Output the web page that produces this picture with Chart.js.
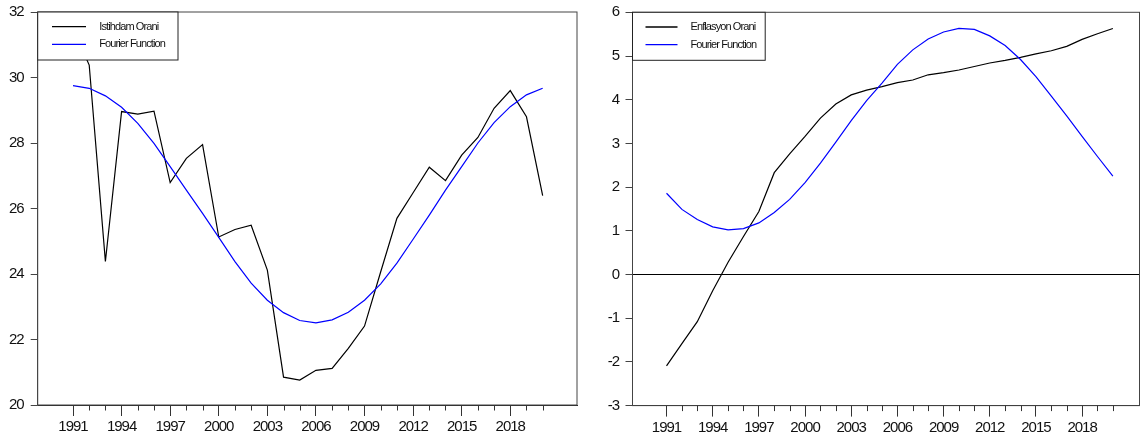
<!DOCTYPE html>
<html><head><meta charset="utf-8">
<script src="https://cdn.jsdelivr.net/npm/chart.js@4"></script>
<style>
html,body{margin:0;padding:0;background:#fff;}
#wrap{position:relative;width:1141px;height:443px;overflow:hidden;background:#fff;}
canvas{position:absolute;top:0;}
</style></head><body>
<div id="wrap">
<canvas id="c1" width="580" height="443" style="left:0px"></canvas>
<canvas id="c2" width="561" height="443" style="left:580px"></canvas>
</div>
<script>
const years = [1991,1992,1993,1994,1995,1996,1997,1998,1999,2000,2001,2002,2003,2004,2005,2006,2007,2008,2009,2010,2011,2012,2013,2014,2015,2016,2017,2018,2019,2020];
const istihdam = [31.5,30.38,24.38,28.96,28.88,28.97,26.79,27.53,27.95,25.13,25.36,25.49,24.12,20.85,20.76,21.06,21.12,21.73,22.41,24.07,25.70,26.48,27.26,26.85,27.63,28.17,29.06,29.60,28.80,26.39];
const istihdamFourier = [29.75,29.67,29.44,29.09,28.60,27.99,27.28,26.56,25.85,25.12,24.38,23.72,23.20,22.82,22.58,22.51,22.60,22.83,23.20,23.70,24.33,25.06,25.80,26.56,27.28,28.00,28.62,29.11,29.47,29.67];
const enflasyon = [-2.09,-1.58,-1.08,-0.37,0.28,0.87,1.44,2.33,2.76,3.16,3.58,3.90,4.11,4.22,4.30,4.39,4.45,4.57,4.62,4.68,4.76,4.84,4.90,4.97,5.05,5.12,5.22,5.38,5.51,5.63];
const enflasyonFourier = [1.86,1.49,1.26,1.09,1.02,1.05,1.18,1.42,1.72,2.10,2.55,3.03,3.52,3.98,4.38,4.81,5.14,5.39,5.55,5.63,5.61,5.46,5.24,4.92,4.53,4.08,3.63,3.16,2.70,2.25];
const xTickLabels = ['1991','1994','1997','2000','2003','2006','2009','2012','2015','2018'];
const istihdamYTicks = [20,22,24,26,28,30,32];
const enflasyonYTicks = [-3,-2,-1,0,1,2,3,4,5,6];

const FONT = "'Liberation Sans',Arial,sans-serif";
const SPACING = '-1px';

function pts(vals){ return years.map((y,i)=>({x:y,y:vals[i]})); }

function setSpacing(chart){ try { chart.ctx.letterSpacing = SPACING; } catch(e){} }

const framePlugin = {
  id:'frame',
  beforeUpdate(chart){ setSpacing(chart); },
  beforeLayout(chart){ setSpacing(chart); },
  beforeDraw(chart){ setSpacing(chart); },
  afterDatasetsDraw(chart, args, opts){
    const ctx = chart.ctx, a = chart.chartArea;
    ctx.save();
    ctx.strokeStyle = '#444'; ctx.lineWidth = 1;
    ctx.strokeRect(a.left, a.top, a.right-a.left, a.bottom-a.top);
    // minor ticks between labelled years
    const xs = chart.scales.x;
    ctx.strokeStyle = '#333';
    ctx.beginPath();
    years.forEach(y=>{
      if(!xTickLabels.includes(String(y))){
        const px = Math.round(xs.getPixelForValue(y))+0.5;
        ctx.moveTo(px, a.bottom); ctx.lineTo(px, a.bottom+5.5);
      }
    });
    ctx.stroke();
    // legend box
    ctx.font = "11px " + FONT;
    try { ctx.letterSpacing = '-0.9px'; } catch(e){}
    const bx = a.left, by = a.top;
    const bw = opts.boxW, bh = 48;
    ctx.fillStyle = '#fff';
    ctx.fillRect(bx, by, bw, bh);
    ctx.strokeStyle = '#222';
    ctx.strokeRect(bx, by, bw, bh);
    chart.data.datasets.forEach((d,i)=>{
      const yy = by + 14.7 + i*17.6;
      ctx.strokeStyle = d.borderColor; ctx.lineWidth = 1.3;
      ctx.beginPath(); ctx.moveTo(bx+opts.lineX0, yy); ctx.lineTo(bx+opts.lineX1, yy); ctx.stroke();
      ctx.fillStyle = '#111'; ctx.textBaseline = 'middle'; ctx.textAlign = 'left';
      ctx.fillText(d.label, bx+opts.textX, yy);
    });
    ctx.restore();
  }
};

function makeChart(id, cfg){
  const chart = new Chart(document.getElementById(id), {
    type:'line',
    data:{ datasets:[
      { label:cfg.labels[0], data:pts(cfg.s1), borderColor:'#000000', borderWidth:1.2, pointRadius:0, tension:0, fill:false, order:1 },
      { label:cfg.labels[1], data:pts(cfg.s2), borderColor:'#0000ff', borderWidth:1.2, pointRadius:0, tension:0, fill:false, order:0 }
    ]},
    options:{
      responsive:false, animation:false, events:[],
      layout:{ padding:{ top:cfg.area.top, right:0, left:0, bottom:0 } },
      plugins:{ legend:{display:false}, tooltip:{enabled:false}, frame:cfg.legend },
      scales:{
        x:{
          type:'linear', min:cfg.xmin, max:cfg.xmax,
          afterBuildTicks: s => { s.ticks = years.map(v=>({value:v})); },
          afterFit: s => { s.height = 30; s.paddingLeft = 0; s.paddingRight = 0; },
          grid:{ drawOnChartArea:false, tickLength:11, tickWidth:1,
                 tickColor: c => xTickLabels.includes(String(c.tick && c.tick.value)) ? '#333' : 'rgba(0,0,0,0)' },
          border:{ color:'#222' },
          ticks:{ autoSkip:false, maxRotation:0, minRotation:0, padding:2, color:'#111',
                  font:{family:FONT, size:15},
                  callback: v => xTickLabels.includes(String(v)) ? String(v) : '' }
        },
        y:{
          type:'linear', min:cfg.ymin, max:cfg.ymax,
          afterBuildTicks: s => { s.ticks = cfg.yticks.map(v=>({value:v})); },
          afterFit: s => { s.width = cfg.area.left; s.paddingTop = 0; s.paddingBottom = 0; },
          grid:{ drawOnChartArea:cfg.zeroLine, tickLength:7,
                 color: c => (cfg.zeroLine && c.tick && c.tick.value === 0) ? '#000' : 'rgba(0,0,0,0)',
                 tickColor:'#444' },
          border:{ color:'#555' },
          ticks:{ padding:cfg.yPad, color:'#111', font:{family:FONT, size:15},
                  callback: v => String(v) }
        }
      }
    },
    plugins:[framePlugin]
  });
  // calibrate plot area to the target frame
  const t = cfg.area;
  for (let k=0;k<4;k++){
    const a = chart.chartArea, p = chart.options.layout.padding;
    p.top += t.top - a.top;
    p.left += t.left - a.left;
    p.right += a.right - t.right;
    p.bottom += a.bottom - t.bottom;
    chart.update();
  }
  return chart;
}

makeChart('c1', {
  labels:['Istihdam Orani','Fourier Function'], s1:istihdam, s2:istihdamFourier,
  xmin:1988.82, xmax:2022.12, ymin:20, ymax:32, yticks:istihdamYTicks,
  area:{ left:37.7, right:577, top:12, bottom:405 }, yPad:7, zeroLine:false,
  legend:{ lineX0:14.3, lineX1:48.3, textX:61.6, boxW:140.3 }
});
makeChart('c2', {
  labels:['Enflasyon Orani','Fourier Function'], s1:enflasyon, s2:enflasyonFourier,
  xmin:1988.79, xmax:2021.73, ymin:-3, ymax:6, yticks:enflasyonYTicks,
  area:{ left:52.5, right:559.5, top:12.3, bottom:405.6 }, yPad:6.5, zeroLine:true,
  legend:{ lineX0:13, lineX1:45, textX:58, boxW:132.7 }
});
</script>
</body></html>
